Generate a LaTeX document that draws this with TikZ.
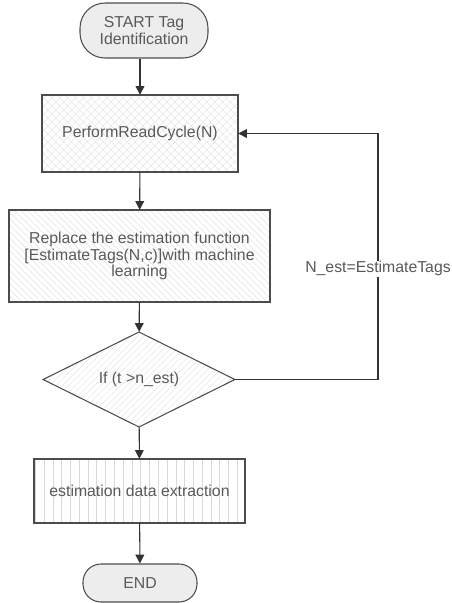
\documentclass[tikz,border=0pt]{standalone}
\usepackage{fontspec}
\setmainfont{Liberation Sans}
\usetikzlibrary{arrows.meta,patterns.meta,shapes.geometric}
\tikzset{
  base/.style={draw=black!70, line width=0.6pt, text=black!65, font=\fontsize{9}{9.2}\selectfont, align=center, inner sep=0pt},
  terminal/.style={base, rectangle, fill=black!7},
  readbox/.style={base, rectangle, pattern={Hatch[angle=45,distance=3.2pt,line width=0.2pt]}, pattern color=black!13},
  replbox/.style={base, rectangle, pattern={Lines[angle=-45,distance=2.6pt,line width=0.2pt]}, pattern color=black!15},
  decision/.style={base, diamond, pattern={Lines[angle=45,distance=2.6pt,line width=0.2pt]}, pattern color=black!13},
  extrbox/.style={base, rectangle, pattern={Lines[angle=90,distance=5pt,line width=0.2pt]}, pattern color=black!15},
  flow/.style={line width=0.6pt, draw=black!80, -{Triangle[length=5pt,width=5pt]}}
}
\begin{document}
\begin{tikzpicture}[x=0.02cm,y=-0.02cm]
  \useasboundingbox (0,0) rectangle (451,603);
  \node[terminal, minimum width=2.56cm, minimum height=1.1cm, rounded corners=0.5cm] (start) at (144,30.5) {START Tag\\Identification};
  \node[readbox, minimum width=3.92cm, minimum height=1.54cm] (read) at (140,133.5) {PerformReadCycle(N)};
  \node[replbox, minimum width=5.22cm, minimum height=1.84cm] (repl) at (139.5,256) {Replace the estimation function\\{}[EstimateTags(N,c)]with machine\\learning};
  \node[decision, minimum width=3.84cm, minimum height=1.5cm] (dec) at (139,379.5) {If (t >n\_est)};
  \node[extrbox, minimum width=4.22cm, minimum height=1.28cm] (extr) at (139.5,491) {estimation data extraction};
  \node[terminal, minimum width=2.28cm, minimum height=0.76cm, rounded corners=0.36cm] (end) at (140,583) {END};
  \coordinate (loop) at (378,379.5);
  \draw[flow] (start.south -| read.north) -- (read.north);
  \draw[flow] (read) -- (repl);
  \draw[flow] (repl) -- (dec);
  \draw[flow] (dec) -- (extr);
  \draw[flow] (extr) -- (end);
  \draw[flow] (dec.east) -- (loop) -- (loop |- read.east) node[pos=0.45, fill=white, text=black!65, font=\fontsize{9}{9.2}\selectfont, inner sep=0.5pt] {N\_est=EstimateTags} -- (read.east);
\end{tikzpicture}
\end{document}
